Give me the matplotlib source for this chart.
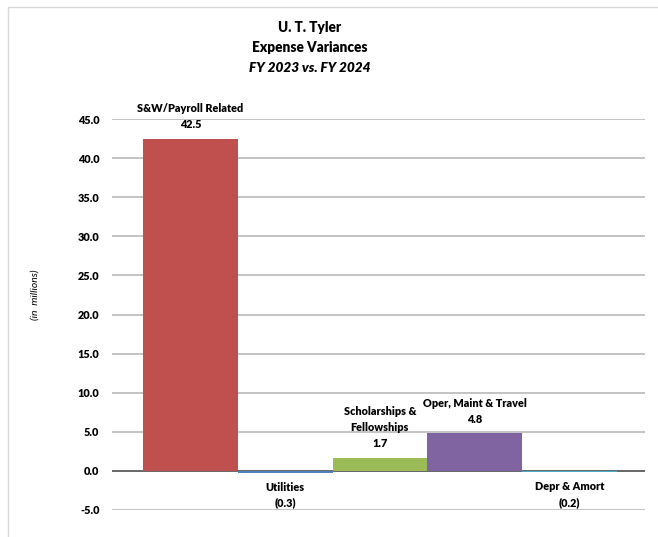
import matplotlib.pyplot as plt
from matplotlib.patches import Rectangle

plt.rcParams['font.family'] = ['Lato', 'DejaVu Sans']

# data
categories = ['S&W/Payroll Related', 'Utilities', 'Scholarships &\nFellowships',
              'Oper, Maint & Travel', 'Depr & Amort']
values = [42.5, -0.3, 1.7, 4.8, -0.2]
colors = ['#C0504D', '#4F81BD', '#9BBB59', '#8064A2', '#4BACC6']
yticks = [-5, 0, 5, 10, 15, 20, 25, 30, 35, 40, 45]

W, H = 658, 537
fig = plt.figure(figsize=(W / 100, H / 100), dpi=100)

# outer chart frame
fig.patches.append(Rectangle((8 / W, -0.1), 1.0, 1 - 7 / H + 0.1,
                             transform=fig.transFigure, fill=False,
                             edgecolor='#D9D9D9', lw=1))

ax = fig.add_axes([112 / W, 1 - 510 / H, (645 - 112) / W, (510 - 119) / H])

x = range(len(values))
ax.bar(x, values, width=1.0, color=colors, zorder=3)

ax.set_xlim(-0.83, 4.80)
ax.set_ylim(-5, 45)
ax.set_yticks(yticks)
ax.set_yticklabels([f'{v:.1f}' for v in yticks], fontweight='heavy', fontsize=7.8)
ax.tick_params(axis='y', length=0, pad=9)
ax.set_xticks([])
ax.grid(axis='y', color='#B3B3B3', lw=1.1, zorder=0)
ax.axhline(0, color='#595959', lw=1.2, zorder=2)
for s in ax.spines.values():
    s.set_visible(False)

for i, (name, v) in enumerate(zip(categories, values)):
    txt = f'{v:.1f}' if v >= 0 else f'({abs(v):.1f})'
    if v >= 0:
        ax.annotate(name + '\n' + txt, (i, v), xytext=(0, 6), textcoords='offset points',
                    ha='center', va='bottom', fontsize=7.8, fontweight='heavy',
                    linespacing=1.55)
    else:
        ax.annotate(name + '\n' + txt, (i, v), xytext=(0, -6), textcoords='offset points',
                    ha='center', va='top', fontsize=7.8, fontweight='heavy',
                    linespacing=1.55)

fig.text(35 / W, 1 - 295 / H, '(in  millions)', rotation=90, style='italic',
         fontsize=7.5, ha='center', va='center')

fig.text(310 / W, 1 - 28 / H, 'U. T. Tyler', fontsize=9.8, fontweight='heavy',
         ha='center', va='center')
fig.text(310 / W, 1 - 48 / H, 'Expense Variances', fontsize=9.8, fontweight='heavy',
         ha='center', va='center')
fig.text(310 / W, 1 - 68 / H, 'FY 2023 vs. FY 2024', fontsize=9.8, fontweight='heavy',
         style='italic', ha='center', va='center')

fig.savefig('out.png', dpi=100)
